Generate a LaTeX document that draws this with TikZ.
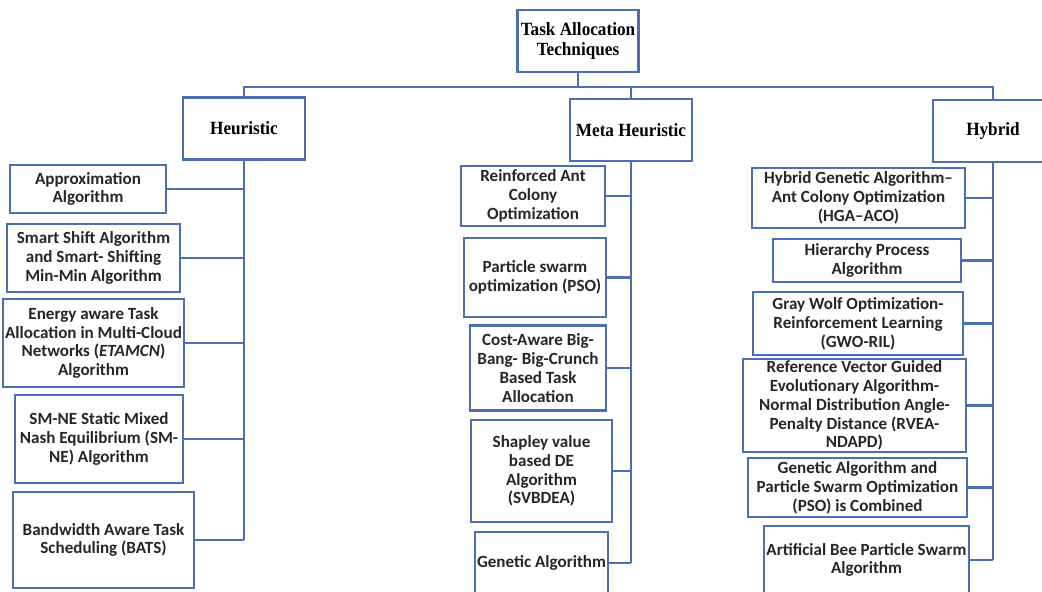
\documentclass[tikz,border=0pt]{standalone}
\usepackage{fontspec}
\newfontfamily\calfont{Carlito}
\newfontfamily\serfont[FakeStretch=0.92]{Liberation Serif}
\definecolor{bx}{HTML}{4A6FB3}
\definecolor{tx}{HTML}{262626}
\begin{document}
\begin{tikzpicture}[x=0.75pt,y=-0.75pt,
  box/.style 2 args={draw=bx, line width=1.7pt, minimum width=#1*0.75pt, minimum height=#2*0.75pt,
    inner sep=1pt, align=center, text=tx, font=\calfont\bfseries\fontsize{12.8}{14.1}\selectfont},
  topbox/.style 2 args={box={#1}{#2}, text=black, font=\serfont\bfseries\fontsize{14}{15}\selectfont},
  link/.style={draw=bx, line width=1.6pt}]
\clip (0,0) rectangle (1042,592);
\fill[white] (0,0) rectangle (1042,592);

% top level
\node[topbox={121}{62}] (root) at (578,41) {Task Allocation\\Techniques};
\node[topbox={122}{62}] (h) at (244,128.5) {Heuristic};
\node[topbox={122}{62}] (m) at (631,130) {Meta Heuristic};
\node[topbox={120}{62}] (hy) at (993,131) {Hybrid};

% heuristic
\node[box={156}{48}] (a1) at (88,189) {Approximation\\Algorithm};
\node[box={173}{68}] (a2) at (93.5,258) {Smart Shift Algorithm\\and Smart- Shifting\\Min-Min Algorithm};
\node[box={181}{88}] (a3) at (93.5,343) {Energy aware Task\\Allocation in Multi-Cloud\\Networks (\textit{ETAMCN})\\Algorithm};
\node[box={168}{88}] (a4) at (99,439) {SM-NE Static Mixed\\Nash Equilibrium (SM-\\NE) Algorithm};
\node[box={181}{96}] (a5) at (103.5,540) {Bandwidth Aware Task\\Scheduling (BATS)};

% meta heuristic
\node[box={144}{60}] (b1) at (533,196) {Reinforced Ant\\Colony\\Optimization};
\node[box={142}{79}] (b2) at (535,277.5) {Particle swarm\\optimization (PSO)};
\node[box={136}{85}] (b3) at (538,368) {Cost-Aware Big-\\Bang- Big-Crunch\\Based Task\\Allocation};
\node[box={141}{102}] (b4) at (541.5,471) {Shapley value\\based DE\\Algorithm\\(SVBDEA)};
\node[box={133}{62}] (b5) at (541.5,563) {Genetic Algorithm};

% hybrid
\node[box={213}{60}] (c1) at (858.5,198) {Hybrid Genetic Algorithm–\\Ant Colony Optimization\\(HGA–ACO)};
\node[box={188}{43}] (c2) at (867,260.5) {Hierarchy Process\\Algorithm};
\node[box={210}{63}] (c3) at (858,323.5) {Gray Wolf Optimization-\\Reinforcement Learning\\(GWO-RIL)};
\node[box={223}{87}] (c4) at (854.5,405.5) {Reference Vector Guided\\Evolutionary Algorithm-\\Normal Distribution Angle-\\Penalty Distance (RVEA-\\NDAPD)};
\node[box={219}{59}] (c5) at (857.5,487.5) {Genetic Algorithm and\\Particle Swarm Optimization\\(PSO) is Combined};
\node[box={205}{68}] (c6) at (866.5,560) {Artificial Bee Particle Swarm\\Algorithm};

% connectors
\coordinate (bus) at (578,87);
\draw[link] (root.south) -- (bus);
\draw[link] (h.north) |- (bus) -| (hy.north);
\draw[link] (m.north) -- (m.north |- bus);

\draw[link] (h.south) -- (h.south |- a5.east);
\foreach \n in {a1,a2,a3,a4,a5} \draw[link] (\n.east) -- (\n.east -| h.south);

\draw[link] (m.south) -- (m.south |- b5.east);
\foreach \n in {b1,b2,b3,b4,b5} \draw[link] (\n.east) -- (\n.east -| m.south);

\draw[link] (hy.south) -- (hy.south |- c6.east);
\foreach \n in {c1,c2,c3,c4,c5,c6} \draw[link] (\n.east) -- (\n.east -| hy.south);
\end{tikzpicture}
\end{document}
